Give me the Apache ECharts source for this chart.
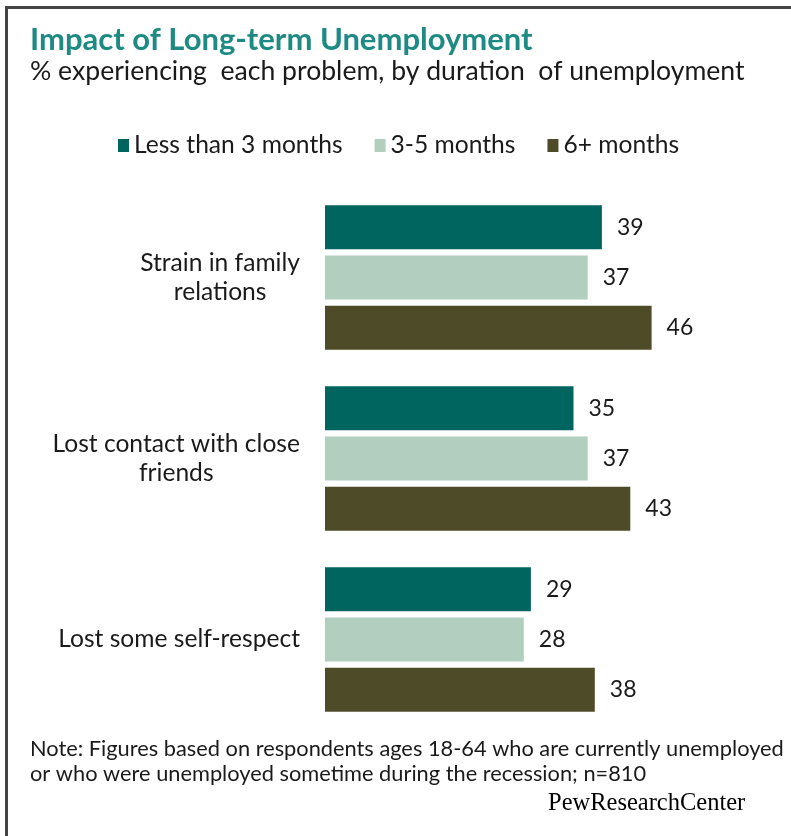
<!DOCTYPE html>
<html>
<head>
<meta charset="utf-8">
<script src="https://cdn.jsdelivr.net/npm/echarts@6/dist/echarts.min.js"></script>
<style>html,body{margin:0;padding:0;background:#fff;}#c{width:791px;height:836px;}</style>
</head>
<body>
<div id="c"></div>
<script>
const categories = ['Strain in family\nrelations', 'Lost contact with close\nfriends', 'Lost some self-respect'];
const seriesNames = ['Less than 3 months', '3-5 months', '6+ months'];
const lessThan3 = [39, 35, 29];
const months3to5 = [37, 37, 28];
const months6plus = [46, 43, 38];
const colors = ['#00655f', '#b2cebf', '#4e4b28'];

const FONT = 'Lato';
const chart = echarts.init(document.getElementById('c'), null, {renderer: 'canvas'});

function mkSeries(name, data, color) {
  return {
    name: name, type: 'bar', data: data, barWidth: 44, barGap: '14%',
    itemStyle: {color: color},
    label: {show: true, position: 'right', distance: 15, color: '#1a1a1a', fontFamily: FONT, fontSize: 23}
  };
}

chart.setOption({
  animation: false,
  textStyle: {fontFamily: FONT},
  grid: {left: 325, top: 187, height: 543, width: 426},
  legend: {
    top: 133, left: 118, padding: 0, itemWidth: 11, itemHeight: 13, itemGap: 32,
    icon: 'rect',
    textStyle: {fontFamily: FONT, fontSize: 24.6, color: '#1a1a1a', padding: [0, 0, 0, 0]},
    data: seriesNames
  },
  xAxis: {type: 'value', min: 0, max: 60, show: false},
  yAxis: {
    type: 'category', data: categories, inverse: true,
    axisLine: {show: false}, axisTick: {show: false},
    axisLabel: {
      margin: 25, color: '#1a1a1a', fontFamily: FONT, fontSize: 24.6, lineHeight: 29,
      formatter: function (v) { return v.split('\n').map(s => '{a|' + s + '}').join('\n'); },
      rich: {a: {align: 'center', fontFamily: FONT, fontSize: 24.6, lineHeight: 29, color: '#1a1a1a'}}
    }
  },
  series: [
    mkSeries(seriesNames[0], lessThan3, colors[0]),
    mkSeries(seriesNames[1], months3to5, colors[1]),
    mkSeries(seriesNames[2], months6plus, colors[2])
  ],
  graphic: [
    {type: 'rect', shape: {x: 6, y: 6, width: 800, height: 3}, style: {fill: '#444'}},
    {type: 'rect', shape: {x: 5, y: 6, width: 3, height: 840}, style: {fill: '#444'}},
    {type: 'text', left: 30, top: 24, style: {text: 'Impact of Long-term Unemployment', fill: '#1d8b83', font: 'bold 31px ' + FONT}},
    {type: 'text', left: 30, top: 58, style: {text: '% experiencing  each problem, by duration  of unemployment', fill: '#1a1a1a', font: '26.6px ' + FONT}},
    {type: 'text', left: 30, top: 736, style: {text: 'Note: Figures based on respondents ages 18-64 who are currently unemployed\nor who were unemployed sometime during the recession; n=810', fill: '#1a1a1a', font: '21.8px ' + FONT, lineHeight: 25}},
    {type: 'text', left: 548, top: 791, style: {
      text: '{a|PewResearch}{b|Center}',
      rich: {a: {fontFamily: 'Liberation Serif', fontSize: 24.5, color: '#444'}, b: {fontFamily: 'Liberation Serif', fontSize: 24.5, color: '#999'}}
    }}
  ]
});
</script>
</body>
</html>
